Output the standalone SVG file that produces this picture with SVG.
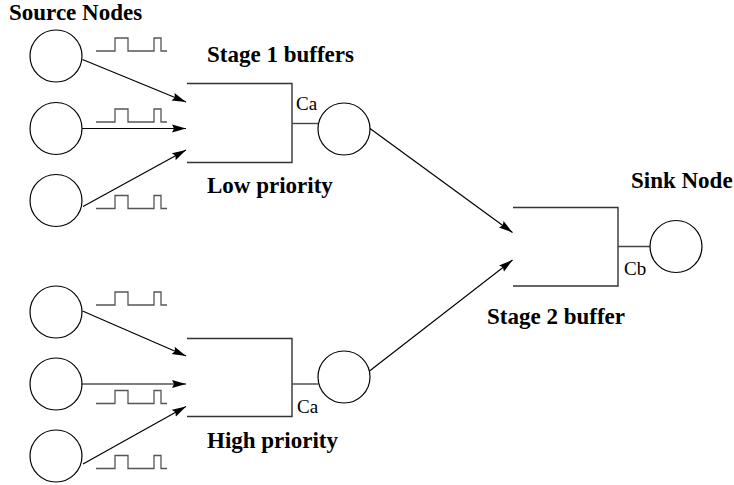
<svg xmlns="http://www.w3.org/2000/svg" width="734" height="485" viewBox="0 0 734 485">
  <style>
    .node { fill: #fff; stroke: #000; stroke-width: 1.2; }
    .buf { fill: none; stroke: #333; stroke-width: 1.4; }
    .link { fill: none; stroke: #444; stroke-width: 1.4; }
    .pulse { fill: none; stroke: #555; stroke-width: 1.3; }
    .edge { fill: none; stroke: #000; stroke-width: 1.2; marker-end: url(#head); }
    .title { font-family: "Liberation Serif", "Times New Roman", serif; font-weight: bold; font-size: 23px; fill: #000; }
    .cap { font-family: "Liberation Serif", "Times New Roman", serif; font-size: 19px; fill: #000; }
  </style>
  <defs>
    <marker id="head" markerUnits="userSpaceOnUse" markerWidth="16" markerHeight="10" refX="14" refY="5" orient="auto">
      <path d="M0,1 L14,5 L0,9 L2,5 Z" fill="#000"/>
    </marker>
    <path id="wave" d="M0,0 H19 V-13 H32 V0 H58 V-13 H65 V0 H71"/>
  </defs>

  <rect width="734" height="485" fill="#fff"/>

  <!-- labels -->
  <text class="title" x="9" y="20">Source Nodes</text>
  <text class="title" x="207" y="62">Stage 1 buffers</text>
  <text class="title" x="207" y="193">Low priority</text>
  <text class="title" x="207" y="448">High priority</text>
  <text class="title" x="631" y="188">Sink Node</text>
  <text class="title" x="487" y="324">Stage 2 buffer</text>

  <!-- source nodes, low priority -->
  <g id="src-low-1"><circle class="node" cx="56" cy="56" r="26"/><use href="#wave" class="pulse" x="96" y="51"/></g>
  <g id="src-low-2"><circle class="node" cx="56" cy="128.5" r="26"/><use href="#wave" class="pulse" x="96" y="122"/></g>
  <g id="src-low-3"><circle class="node" cx="56" cy="200.5" r="26"/><use href="#wave" class="pulse" x="96" y="208.5"/></g>

  <!-- source nodes, high priority -->
  <g id="src-high-1"><circle class="node" cx="56" cy="312" r="26"/><use href="#wave" class="pulse" x="96" y="305"/></g>
  <g id="src-high-2"><circle class="node" cx="56" cy="384" r="26"/><use href="#wave" class="pulse" x="96" y="403.5"/></g>
  <g id="src-high-3"><circle class="node" cx="56" cy="456" r="26"/><use href="#wave" class="pulse" x="96" y="468.5"/></g>

  <!-- stage 1 buffers with their servers -->
  <g id="buffer-low">
    <path class="buf" d="M187,83.5 H292 V162.5 H187"/>
    <path class="link" d="M292,123.5 H318.5"/>
    <text class="cap" x="296" y="110">Ca</text>
  </g>
  <g id="server-low"><circle class="node" cx="344" cy="129" r="26"/></g>

  <g id="buffer-high">
    <path class="buf" d="M187,338.5 H292 V416.5 H187"/>
    <path class="link" d="M292,384 H318.5"/>
    <text class="cap" x="297" y="412.5">Ca</text>
  </g>
  <g id="server-high"><circle class="node" cx="344" cy="377" r="26"/></g>

  <!-- stage 2 buffer and sink -->
  <g id="buffer-stage2">
    <path class="buf" d="M513,207.5 H618 V286 H513"/>
    <path class="link" d="M618,246.5 H650.5"/>
    <text class="cap" x="624" y="275">Cb</text>
  </g>
  <g id="sink"><circle class="node" cx="676" cy="246.5" r="26"/></g>

  <!-- connectors -->
  <g id="connectors">
    <line class="edge" x1="82.5" y1="59.5" x2="186" y2="102"/>
    <line class="edge" x1="82" y1="128.5" x2="186" y2="128.5"/>
    <line class="edge" x1="83" y1="206.5" x2="186" y2="150"/>
    <line class="edge" x1="82.5" y1="311" x2="186" y2="356"/>
    <line class="edge" x1="82" y1="384" x2="186" y2="384"/>
    <line class="edge" x1="83" y1="464" x2="186" y2="406.5"/>
    <line class="edge" x1="370" y1="128.5" x2="512.5" y2="232.5"/>
    <line class="edge" x1="369.5" y1="371" x2="512.5" y2="260"/>
  </g>
</svg>
